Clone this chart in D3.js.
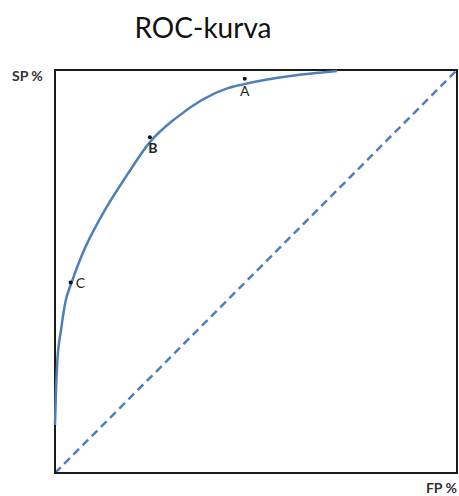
<!DOCTYPE html>
<html>
<head>
<meta charset="utf-8">
<script src="https://cdn.jsdelivr.net/npm/d3@7"></script>
<style>
  html, body { margin: 0; padding: 0; background: #fff; }
  svg { display: block; }
</style>
</head>
<body>
<svg id="chart" width="459" height="496"></svg>
<script>
// ROC curve: false positive % (x) vs specificity/sensitivity % (y)
const rocFP = [0, 0.25, 0.6, 1.5, 2.7, 4.0, 6.7, 11.7, 17.9, 23.6, 30.0, 43.0, 47.0, 70.1];
const rocSP = [11.9, 20.6, 28.0, 35.5, 42.9, 46.9, 54.1, 64.0, 73.9, 82.1, 88.0, 95.5, 96.5, 99.75];
// Marked points
const pointNames = ["A", "B", "C"];
const pointFP = [47.2, 23.6, 3.9];
const pointSP = [97.8, 83.3, 47.3];
// Reference diagonal
const diagFP = [0, 100];
const diagSP = [0, 100];
const titleText = "ROC-kurva";
const xLabel = "FP %";
const yLabel = "SP %";

const svg = d3.select("#chart");
const mLeft = 55, mRight = 457, mTop = 70, mBottom = 473;
const x = d3.scaleLinear().domain([0, 100]).range([mLeft, mRight]);
const y = d3.scaleLinear().domain([0, 100]).range([mBottom, mTop]);
const blue = "#4f7fbb";

svg.append("text")
  .attr("x", 203).attr("y", 38)
  .attr("text-anchor", "middle")
  .attr("font-family", "Lato, 'Open Sans', sans-serif")
  .attr("font-size", 28)
  .attr("fill", "#111")
  .text(titleText);

// diagonal dashed
svg.append("path")
  .datum(diagFP.map((d, i) => [d, diagSP[i]]))
  .attr("d", d3.line().x(d => x(d[0])).y(d => y(d[1])))
  .attr("fill", "none")
  .attr("stroke", blue)
  .attr("stroke-width", 2.5)
  .attr("stroke-dasharray", "8,5");

// frame
svg.append("rect")
  .attr("x", mLeft).attr("y", mTop)
  .attr("width", mRight - mLeft).attr("height", mBottom - mTop)
  .attr("fill", "none")
  .attr("stroke", "#1a1a1a")
  .attr("stroke-width", 2);

// ROC curve
svg.append("path")
  .datum(rocFP.map((d, i) => [d, rocSP[i]]))
  .attr("d", d3.line().x(d => x(d[0])).y(d => y(d[1])).curve(d3.curveMonotoneX))
  .attr("fill", "none")
  .attr("stroke", blue)
  .attr("stroke-width", 2.5)
  .attr("stroke-linejoin", "round");

// points
const pts = pointNames.map((n, i) => ({ n, fp: pointFP[i], sp: pointSP[i] }));
svg.selectAll("circle.pt").data(pts).enter().append("circle")
  .attr("cx", d => x(d.fp)).attr("cy", d => y(d.sp))
  .attr("r", 2).attr("fill", "#111");

const labelOffset = { A: [0, 17, "middle"], B: [3, 16, "middle"], C: [5, 6, "start"] };
svg.selectAll("text.pt").data(pts).enter().append("text")
  .attr("x", d => x(d.fp) + labelOffset[d.n][0])
  .attr("y", d => y(d.sp) + labelOffset[d.n][1])
  .attr("text-anchor", d => labelOffset[d.n][2])
  .attr("font-family", "Lato, 'Open Sans', sans-serif")
  .attr("font-size", 14)
  .attr("font-weight", d => d.n === "B" ? "bold" : "normal")
  .attr("fill", "#222")
  .text(d => d.n);

svg.append("text")
  .attr("x", 12).attr("y", 81)
  .attr("font-family", "Lato, 'Open Sans', sans-serif")
  .attr("font-size", 14).attr("font-weight", "bold")
  .attr("fill", "#333")
  .text(yLabel);

svg.append("text")
  .attr("x", 457).attr("y", 493)
  .attr("text-anchor", "end")
  .attr("font-family", "Lato, 'Open Sans', sans-serif")
  .attr("font-size", 14).attr("font-weight", "bold")
  .attr("fill", "#333")
  .text(xLabel);
</script>
</body>
</html>
